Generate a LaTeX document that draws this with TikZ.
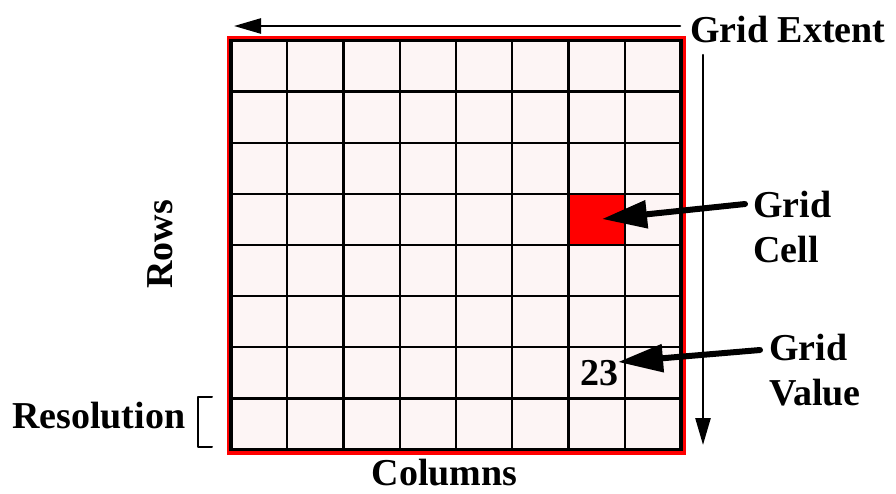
\documentclass[tikz,border=0pt]{standalone}
\usepackage{fontspec}
\setmainfont{Liberation Serif}
\usetikzlibrary{arrows.meta}
\definecolor{cellpink}{RGB}{253,245,245}
\tikzset{
  lbl/.style={font=\bfseries\fontsize{38}{45}\selectfont,inner sep=0pt},
  thinarrow/.style={line width=2.5pt,-{Triangle[length=27pt,width=15pt]}},
  fatarrow/.style={line width=6pt,-{Triangle[length=45pt,width=27pt]}}
}
\begin{document}
\begin{tikzpicture}[x=1pt,y=-1pt,line cap=round,line join=round]
    \useasboundingbox (0,0) rectangle (896,493);

    \coordinate (NW) at (231,40.5);
    \coordinate (SE) at (681,449.5);

    \fill[cellpink] (NW) rectangle (SE);
    \fill[red] (568.5,193.9) rectangle (624.75,245);
    \foreach \i in {1,...,7} {
        \draw[line width=2.4pt] (231+\i*56.25,40.5) -- (231+\i*56.25,449.5);
        \draw[line width=2.4pt] (231,40.5+\i*51.125) -- (681,40.5+\i*51.125);
    }
    \draw[red,line width=4pt,line cap=butt,line join=miter] (228.5,37.5) rectangle (683.5,452.5);
    \draw[line width=3.5pt,line cap=butt,line join=miter] (NW) rectangle (SE);

    \node[lbl,anchor=base west] (extent) at (690,42) {Grid Extent};
    \coordinate (H1) at (680,26);
    \coordinate (H2) at (234,26);
    \coordinate (V1) at (703,55);
    \coordinate (V2) at (703,445);
    \draw[thinarrow] (H1) -- (H2);
    \draw[thinarrow] (V1) -- (V2);

    \node[lbl,anchor=base west,align=left] (cell) at (753,262) {Grid\\Cell};
    \coordinate (C1) at (745,204);
    \coordinate (C2) at (602,219);
    \draw[fatarrow] (C1) -- (C2);

    \node[lbl] (value23) at (599,373) {23};
    \node[lbl,anchor=base west,align=left] (value) at (769,405) {Grid\\Value};
    \coordinate (G1) at (760,350);
    \coordinate (G2) at (618,362);
    \draw[fatarrow] (G1) -- (G2);

    \node[lbl,rotate=90,anchor=base] (rows) at (172,244.5) {Rows};
    \node[lbl,anchor=base] (columns) at (444.5,485) {Columns};
    \node[lbl,anchor=base west] (res) at (12,428) {Resolution};

    \coordinate (R1) at (212,397);
    \coordinate (R2) at (198,397);
    \coordinate (R3) at (198,447);
    \coordinate (R4) at (212,447);
    \draw[line width=2pt] (R1) -- (R2) -- (R3) -- (R4);
\end{tikzpicture}
\end{document}
